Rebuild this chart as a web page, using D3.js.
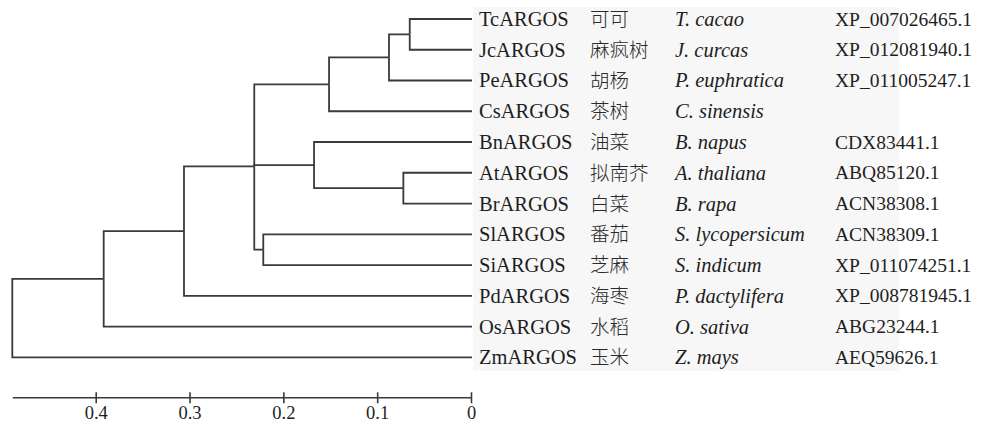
<!DOCTYPE html>
<html>
<head>
<meta charset="utf-8">
<script src="https://cdn.jsdelivr.net/npm/d3@7"></script>
<style>
  html, body { margin: 0; padding: 0; background: #ffffff; }
  svg { display: block; }
  .lbl { font-family: "Liberation Serif", "Times New Roman", serif; font-size: 20.5px; fill: #1e1e1e; }
  .acc { font-size: 19.5px; }
  .cn { font-family: "Noto Sans CJK SC", sans-serif; font-size: 19.5px; fill: #2a2a2a; font-weight: 300; }
  .sp { font-style: italic; }
</style>
</head>
<body>
<svg id="chart" width="985" height="425"></svg>
<script>
// Leaves, top to bottom
const genes = ["TcARGOS", "JcARGOS", "PeARGOS", "CsARGOS", "BnARGOS", "AtARGOS",
               "BrARGOS", "SlARGOS", "SiARGOS", "PdARGOS", "OsARGOS", "ZmARGOS"];
const commonNames = ["可可", "麻疯树", "胡杨", "茶树", "油菜", "拟南芥",
                     "白菜", "番茄", "芝麻", "海枣", "水稻", "玉米"];
const speciesNames = ["T. cacao", "J. curcas", "P. euphratica", "C. sinensis", "B. napus", "A. thaliana",
                      "B. rapa", "S. lycopersicum", "S. indicum", "P. dactylifera", "O. sativa", "Z. mays"];
const accessions = ["XP_007026465.1", "XP_012081940.1", "XP_011005247.1", "", "CDX83441.1", "ABQ85120.1",
                    "ACN38308.1", "ACN38309.1", "XP_011074251.1", "XP_008781945.1", "ABG23244.1", "AEQ59626.1"];

// Internal nodes: name, children, node height (distance)
const nodeNames    = ["n1", "n2", "n3", "n4", "n5", "n6", "n7", "n8", "n9", "root"];
const nodeChildren = [["TcARGOS", "JcARGOS"], ["n1", "PeARGOS"], ["n2", "CsARGOS"],
                      ["AtARGOS", "BrARGOS"], ["BnARGOS", "n4"], ["SlARGOS", "SiARGOS"],
                      ["n3", "n5", "n6"], ["n7", "PdARGOS"], ["n8", "OsARGOS"], ["n9", "ZmARGOS"]];
const nodeHeights  = [0.0653, 0.0874, 0.1513, 0.0721, 0.1673, 0.2214, 0.2310, 0.3059, 0.3915, 0.4889];

const axisTicks = [0.4, 0.3, 0.2, 0.1, 0];

// Build the hierarchy
const childMap = new Map(nodeNames.map((n, i) => [n, nodeChildren[i]]));
const heightMap = new Map(nodeNames.map((n, i) => [n, nodeHeights[i]]));
genes.forEach(g => heightMap.set(g, 0));
const root = d3.hierarchy("root", n => childMap.get(n));

const svg = d3.select("#chart");

const x = d3.scaleLinear().domain([d3.max(nodeHeights), 0]).range([12.3, 471]);
const yLeaf = d3.scalePoint().domain(genes).range([19, 357.3]);

// Leaf rows at even spacing, each parent at the mean of its children
root.eachAfter(d => {
  d.h = heightMap.get(d.data);
  d.y = d.children ? d3.mean(d.children, c => c.y) : yLeaf(d.data);
});

// Light panel behind the label table
svg.append("rect")
  .attr("x", 473).attr("y", 7)
  .attr("width", 426).attr("height", 364)
  .attr("fill", "#f7f7f7");

// Elbow branches
svg.append("g")
  .selectAll("path")
  .data(root.descendants().filter(d => d.parent))
  .join("path")
  .attr("d", d => `M${x(d.parent.h)},${d.parent.y}V${d.y}H${x(d.h) + (d.children ? 0 : 1)}`)
  .attr("fill", "none")
  .attr("stroke", "#3a3a3a")
  .attr("stroke-width", 1.8);

// Label table
const rows = svg.append("g")
  .selectAll("g")
  .data(genes)
  .join("g")
  .attr("transform", g => `translate(0,${yLeaf(g)})`);

rows.append("text").attr("class", "lbl").attr("x", 479).attr("dy", "0.34em").text(g => g);
rows.append("text").attr("class", "cn").attr("x", 590).attr("dy", "0.36em").text((g, i) => commonNames[i]);
rows.append("text").attr("class", "lbl sp").attr("x", 675).attr("dy", "0.34em").text((g, i) => speciesNames[i]);
rows.append("text").attr("class", "lbl acc").attr("x", 835).attr("dy", "0.34em").text((g, i) => accessions[i]);

// Distance axis
const axis = svg.append("g")
  .attr("transform", "translate(0,397.3)")
  .call(d3.axisBottom(x).tickValues(axisTicks).tickFormat(d3.format("")).tickSizeOuter(0).tickPadding(3));

axis.select(".domain").attr("stroke", "#3a3a3a").attr("stroke-width", 1.6);
axis.selectAll(".tick line").attr("y1", -5).attr("y2", 6).attr("stroke", "#3a3a3a").attr("stroke-width", 1.6);
axis.selectAll(".tick text")
  .attr("font-family", "Liberation Serif, Times New Roman, serif")
  .attr("font-size", "18.5px")
  .attr("fill", "#1e1e1e");
</script>
</body>
</html>
